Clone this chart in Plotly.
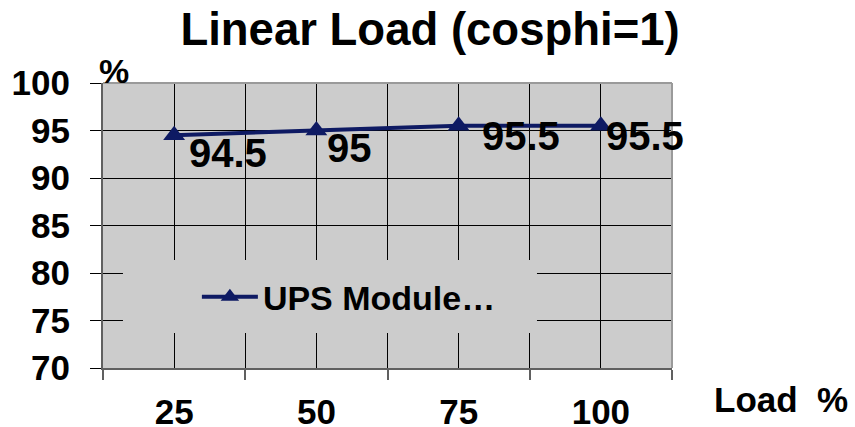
import plotly.graph_objects as go

categories = ["25", "50", "75", "100"]
efficiency = [94.5, 95, 95.5, 95.5]
y_ticks = [70, 75, 80, 85, 90, 95, 100]
series_name = "UPS Module…"

FONT = "Liberation Sans, Arial, sans-serif"
NAVY = "#0e1a63"
BG = "#cccccc"

xpos = list(range(len(categories)))
bounds = [i - 0.5 for i in range(len(categories) + 1)]

# label placement offsets (pixels) relative to each point
label_dx = [13, 9, 21, 3]
label_dy = [6, 7, 14, 14]

fig = go.Figure()
fig.add_trace(go.Scatter(
    x=xpos, y=efficiency, name=series_name,
    mode="lines+markers",
    line=dict(color=NAVY, width=4),
    marker=dict(symbol="triangle-up", size=19, color=NAVY),
    cliponaxis=False,
))

annotations = []
for xi, v, dx, dy in zip(xpos, efficiency, label_dx, label_dy):
    annotations.append(dict(
        x=xi, y=v, xref="x", yref="y", text=f"{v:g}", showarrow=False,
        xanchor="left", yanchor="top", xshift=dx, yshift=dy,
        font=dict(family=FONT, size=40, color="black", weight="bold")))

annotations += [
    dict(text="%", xref="paper", yref="paper", x=0.02, y=1.0, xanchor="center",
         yanchor="bottom", yshift=-9, showarrow=False,
         font=dict(family=FONT, size=34, color="black", weight="bold")),
    dict(text="Load\u00a0\u00a0%", xref="paper", yref="paper", x=1.07, y=-0.11,
         xanchor="left", yanchor="middle", showarrow=False,
         font=dict(family=FONT, size=35, color="black", weight="bold")),
]

fig.update_layout(
    template="none",
    width=855, height=427,
    margin=dict(l=103, r=183, t=83, b=59, pad=0, autoexpand=False),
    paper_bgcolor="white", plot_bgcolor=BG,
    font=dict(family=FONT, color="black", weight="bold"),
    title=dict(text="Linear Load (cosphi=1)", x=0.503, xanchor="center",
               y=0.97, yanchor="top",
               font=dict(family=FONT, size=45.5, color="black", weight="bold")),
    showlegend=True,
    legend=dict(x=0.165, xanchor="left", y=0.249, yanchor="middle",
                bgcolor="rgba(0,0,0,0)", borderwidth=0, itemwidth=56,
                font=dict(family=FONT, size=34, color="black", weight="bold")),
    xaxis=dict(range=[bounds[0], bounds[-1]], tickvals=xpos, ticktext=categories,
               ticks="", showgrid=True, gridcolor="black", gridwidth=1,
               automargin=False,
               zeroline=False, showline=True, linecolor="#606060", linewidth=2,
               tickfont=dict(family=FONT, size=35, color="black", weight="bold"),
               ticklabelstandoff=12,
               minor=dict(tickvals=bounds, ticks="outside", ticklen=10,
                          tickcolor="#606060", tickwidth=1.5, showgrid=True,
                          gridcolor="black", gridwidth=1)),
    yaxis=dict(range=[70, 100], tickvals=y_ticks, ticks="outside", ticklen=11,
               tickcolor="black", tickwidth=1, showgrid=True, gridcolor="black",
               automargin=False,
               gridwidth=1, zeroline=False, showline=True, linecolor="#606060",
               linewidth=2, ticklabelstandoff=13,
               tickfont=dict(family=FONT, size=35, color="black", weight="bold")),
    shapes=[
        dict(type="rect", xref="paper", yref="paper", x0=0.0351, x1=0.7627,
             y0=0.1228, y1=0.3789, fillcolor=BG, line=dict(width=0),
             layer="above"),
        dict(type="line", xref="paper", yref="paper", x0=0, x1=1, y0=1, y1=1,
             line=dict(color="#9a9a9a", width=2), layer="above"),
        dict(type="line", xref="paper", yref="paper", x0=1, x1=1, y0=0, y1=1,
             line=dict(color="#9a9a9a", width=2), layer="above"),
    ],
    annotations=annotations,
)

fig.write_html("out.html", config={"displayModeBar": False},
               post_script="document.body.style.margin='0';")
